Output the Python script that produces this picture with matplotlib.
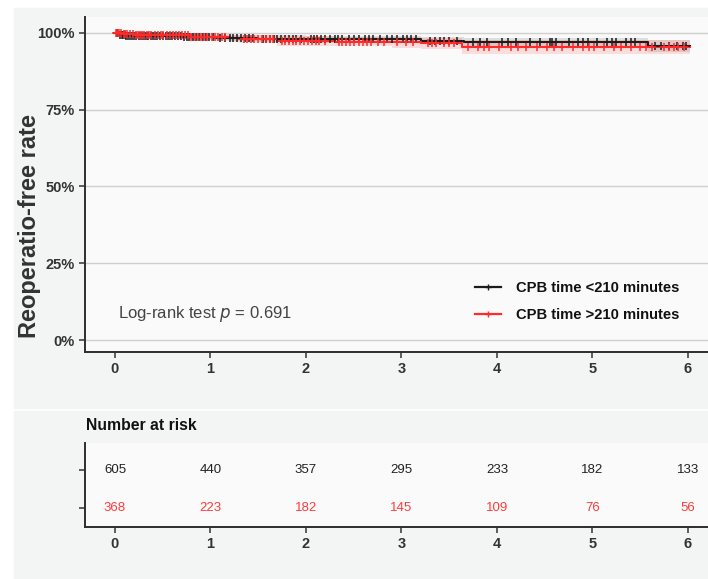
import numpy as np
import matplotlib.pyplot as plt
from matplotlib.lines import Line2D

plt.rcParams['font.family'] = ['Liberation Sans', 'DejaVu Sans']

# Kaplan-Meier steps (time in years, survival fraction)
t_black = [0, 0.04, 0.12, 0.7, 1.05, 1.5, 2.0, 3.2, 3.65, 5.58, 6.02]
s_black = [1.0, 0.994, 0.989, 0.987, 0.984, 0.981, 0.979, 0.975, 0.969, 0.957, 0.957]
lo_black = [1.0, 0.988, 0.981, 0.978, 0.975, 0.971, 0.968, 0.963, 0.956, 0.937, 0.937]
hi_black = [1.0, 1.0, 0.997, 0.996, 0.994, 0.992, 0.990, 0.988, 0.983, 0.978, 0.978]

t_red = [0, 0.08, 0.2, 0.8, 1.2, 1.3, 1.7, 2.3, 2.9, 3.2, 3.63, 6.02]
s_red = [1.0, 0.996, 0.992, 0.988, 0.983, 0.979, 0.974, 0.972, 0.969, 0.966, 0.953, 0.953]
lo_red = [1.0, 0.989, 0.983, 0.977, 0.971, 0.966, 0.959, 0.956, 0.951, 0.947, 0.930, 0.918]
hi_red = [1.0, 1.0, 1.0, 0.998, 0.995, 0.992, 0.989, 0.988, 0.986, 0.984, 0.976, 0.981]

# censoring times
cens_black = [0.02, 0.05, 0.07, 0.08, 0.1, 0.12, 0.14, 0.16, 0.18, 0.2, 0.22, 0.25, 0.27,
              0.29, 0.31, 0.33, 0.35, 0.38, 0.4, 0.42, 0.44, 0.47, 0.5, 0.53, 0.55, 0.58,
              0.6, 0.63, 0.66, 0.69, 0.72, 0.75, 0.78, 0.82, 0.85, 0.88, 0.92, 0.95, 0.98,
              1.03, 1.1, 1.15, 1.2, 1.24, 1.28, 1.32, 1.36, 1.4, 1.45, 1.55, 1.58, 1.62,
              1.66, 1.7, 1.74, 1.78, 1.82, 1.86, 1.9, 1.95, 2.05, 2.08, 2.12, 2.16, 2.2,
              2.25, 2.3, 2.34, 2.38, 2.45, 2.5, 2.55, 2.62, 2.66, 2.7, 2.78, 2.85, 2.9,
              2.95, 3.02, 3.06, 3.1, 3.15, 3.3, 3.35, 3.4, 3.44, 3.5, 3.58, 3.75, 3.82,
              3.9, 4.05, 4.12, 4.2, 4.35, 4.45, 4.55, 4.58, 4.62, 4.75, 4.85, 4.9, 4.95,
              5.05, 5.15, 5.2, 5.25, 5.35, 5.4, 5.45, 5.65, 5.72, 5.8, 5.88, 5.95, 5.98]
cens_red = [0.01, 0.03, 0.04, 0.06, 0.09, 0.1, 0.13, 0.16, 0.19, 0.22, 0.24, 0.26, 0.28,
            0.3, 0.33, 0.36, 0.38, 0.42, 0.45, 0.48, 0.5, 0.54, 0.58, 0.61, 0.64, 0.67,
            0.7, 0.73, 0.76, 0.8, 0.84, 0.87, 0.9, 0.93, 0.96, 1.02, 1.05, 1.08, 1.12,
            1.15, 1.35, 1.38, 1.42, 1.46, 1.5, 1.54, 1.58, 1.62, 1.65, 1.75, 1.78, 1.82,
            1.86, 1.9, 1.94, 1.98, 2.02, 2.06, 2.1, 2.14, 2.2, 2.35, 2.38, 2.42, 2.46,
            2.5, 2.55, 2.6, 2.64, 2.68, 2.75, 2.82, 2.95, 3.05, 3.12, 3.28, 3.32, 3.36,
            3.45, 3.5, 3.55, 3.7, 3.8, 3.86, 3.92, 4.02, 4.15, 4.22, 4.3, 4.42, 4.52,
            4.6, 4.68, 4.8, 4.9, 4.96, 5.02, 5.12, 5.22, 5.3, 5.4, 5.5, 5.56, 5.62,
            5.75, 5.8, 5.85, 5.9, 5.96]

risk_times = [0, 1, 2, 3, 4, 5, 6]
risk_black = [605, 440, 357, 295, 233, 182, 133]
risk_red = [368, 223, 182, 145, 109, 76, 56]

labels = ['CPB time <210 minutes', 'CPB time >210 minutes']
c_black = '#1c1c1c'
c_red = '#ff2b2b'
txt = '#333333'


def surv_at(tt, t, s):
    idx = np.searchsorted(t, tt, side='right') - 1
    return np.asarray(s)[idx]


fig = plt.figure(figsize=(7.08, 5.79), dpi=100, facecolor='white')
W, H = 708, 579
# background blocks
fig.patches.append(plt.Rectangle((14 / W, 1 - 408 / H), 1, 400 / H,
                                 transform=fig.transFigure, color='#f3f4f4', zorder=-5))
fig.patches.append(plt.Rectangle((14 / W, 1 - 578 / H), 1, 167 / H,
                                 transform=fig.transFigure, color='#f3f4f4', zorder=-5))

ax = fig.add_axes([85 / W, 1 - 352 / H, 1 - 85 / W, 335 / H])
ax.set_facecolor('#fafafa')
xmin, xmax = -0.314, (708 - 115) / 95.5
ax.set_xlim(xmin, xmax)
ax.set_ylim(-0.039, 1.052)

for t, s, lo, hi, c, a in [(t_black, s_black, lo_black, hi_black, c_black, 0.12),
                           (t_red, s_red, lo_red, hi_red, c_red, 0.14)]:
    ax.fill_between(t, lo, hi, step='post', color=c, alpha=a, lw=0, zorder=2)
for t, s, cens, c in [(t_black, s_black, cens_black, c_black),
                      (t_red, s_red, cens_red, c_red)]:
    ax.step(t, s, where='post', color=c, lw=1.5, zorder=3)
    ax.plot(cens, surv_at(cens, t, s), ls='none', marker='+', ms=5.5, mew=1.1,
            color=c, zorder=4)

ax.set_yticks([0, 0.25, 0.5, 0.75, 1.0])
ax.set_yticklabels(['0%', '25%', '50%', '75%', '100%'])
ax.set_xticks(risk_times)
ax.grid(axis='y', color='#cfcfcf', lw=1.0)
ax.grid(axis='x', visible=False)
ax.set_axisbelow(True)
for side in ['top', 'right']:
    ax.spines[side].set_visible(False)
for side in ['left', 'bottom']:
    ax.spines[side].set_color('#2e2e2e')
    ax.spines[side].set_linewidth(1.4)
ax.tick_params(colors='#333333', labelsize=10.5, length=4, width=1.1)
for lab in ax.get_xticklabels() + ax.get_yticklabels():
    lab.set_fontweight('bold')
    lab.set_color(txt)
ax.set_ylabel('Reoperatio-free rate', fontsize=17, fontweight='bold', color=txt)
ax.yaxis.set_label_coords(-0.071, 0.376)

ax.text(0.03, 0.085, 'Log-rank test $\\it{p}$ = 0.691', fontsize=12, color='#444444',
        va='center', ha='left', transform=ax.transData)

handles = [Line2D([], [], color=c_black, lw=1.6, marker='+', ms=4),
           Line2D([], [], color=c_red, lw=1.6, marker='+', ms=4)]
leg = ax.legend(handles, labels, loc='lower left', bbox_to_anchor=(0.604, 0.05),
                frameon=False, prop={'weight': 'bold', 'size': 10.6},
                handlelength=1.8, labelspacing=0.85, handletextpad=1.0)
for tx in leg.get_texts():
    tx.set_color('#111111')

# risk table
fig.text(86 / W, 1 - 425 / H, 'Number at risk', fontsize=11.3, fontweight='bold',
         color='#111111', va='center', ha='left')
ax2 = fig.add_axes([85 / W, 1 - 527 / H, 1 - 85 / W, 84 / H])
ax2.set_facecolor('#fafafa')
ax2.set_xlim(xmin, xmax)
ax2.set_ylim(0.5, 2.71)
for x, n in zip(risk_times, risk_black):
    ax2.text(x, 2, str(n), ha='center', va='center', fontsize=9.5, color='#222222')
for x, n in zip(risk_times, risk_red):
    ax2.text(x, 1, str(n), ha='center', va='center', fontsize=9.5, color='#ff3b3b')
ax2.set_yticks([1, 2])
ax2.set_yticklabels(['', ''])
ax2.set_xticks(risk_times)
for side in ['top', 'right']:
    ax2.spines[side].set_visible(False)
for side in ['left', 'bottom']:
    ax2.spines[side].set_color('#2e2e2e')
    ax2.spines[side].set_linewidth(1.4)
ax2.tick_params(colors='#333333', labelsize=10.5, length=4, width=1.1)
for lab in ax2.get_xticklabels():
    lab.set_fontweight('bold')
    lab.set_color(txt)

fig.savefig('out.png', dpi=100, facecolor=fig.get_facecolor())
